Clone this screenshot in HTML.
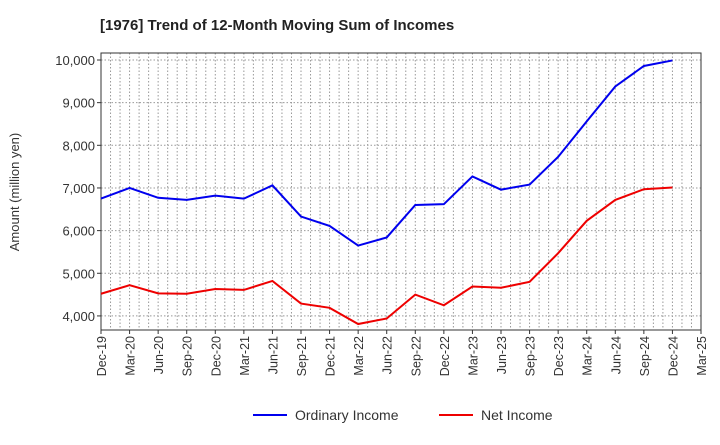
<!DOCTYPE html>
<html><head><meta charset="utf-8"><style>
body{margin:0;background:#fff;font-family:"Liberation Sans",Arial,sans-serif}
</style></head><body>
<svg id="c" width="720" height="440" xmlns="http://www.w3.org/2000/svg">
<text x="100" y="30" font-size="15" font-weight="bold" fill="#222">[1976]  Trend of 12-Month Moving Sum of Incomes</text>
<g id="grid"></g><g id="axes"></g><g id="series"></g>
<text transform="translate(19,192) rotate(-90)" text-anchor="middle" font-size="13" fill="#333">Amount (million yen)</text>
<g>
<line x1="253" y1="415" x2="287" y2="415" stroke="#0000ee" stroke-width="2"/>
<text x="295" y="420" font-size="14" fill="#333">Ordinary Income</text>
<line x1="439" y1="415" x2="473" y2="415" stroke="#ee0000" stroke-width="2"/>
<text x="481" y="420" font-size="14" fill="#333">Net Income</text>
</g>
</svg>
<script>
const categories=["Dec-19","Mar-20","Jun-20","Sep-20","Dec-20","Mar-21","Jun-21","Sep-21","Dec-21","Mar-22","Jun-22","Sep-22","Dec-22","Mar-23","Jun-23","Sep-23","Dec-23","Mar-24","Jun-24","Sep-24","Dec-24","Mar-25"];
const ordinaryIncome=[6750,7000,6770,6720,6820,6750,7060,6330,6110,5650,5840,6600,6620,7270,6960,7080,7730,8560,9380,9860,9990];
const netIncome=[4520,4720,4530,4520,4630,4610,4820,4290,4190,3810,3940,4500,4250,4690,4660,4800,5470,6230,6720,6970,7010];
const yTicks=[4000,5000,6000,7000,8000,9000,10000];
const L=101,R=701,T=53,B=330,yMin=3670,yMax=10164;
const NS="http://www.w3.org/2000/svg";
const x=i=>L+i*(R-L)/(categories.length-1);
const y=v=>B-(v-yMin)/(yMax-yMin)*(B-T);
function mk(tag,attrs,parent){const e=document.createElementNS(NS,tag);for(const k in attrs)e.setAttribute(k,attrs[k]);document.getElementById(parent).appendChild(e);return e;}
for(let m=1;m<(categories.length-1)*3;m++){const xx=L+m*(R-L)/((categories.length-1)*3);
const g=mk('line',{x1:xx,x2:xx,y1:T,y2:B,stroke:'#999','stroke-dasharray':'1.5,2','stroke-width':1},'grid');

}
yTicks.forEach(v=>{const g=mk('line',{x1:L,x2:R,y1:y(v),y2:y(v),stroke:'#999','stroke-dasharray':'1.5,2'},'grid');


const t=mk('text',{x:L-6,y:y(v)+5,'text-anchor':'end','font-size':13,fill:'#333'},'axes');t.textContent=v.toLocaleString('en-US');


const tk=mk('line',{x1:L-4,x2:L,y1:y(v),y2:y(v),stroke:'#333'},'axes');

});
const fr=mk('rect',{x:L,y:T,width:R-L,height:B-T,fill:'none',stroke:'#333'},'axes');


categories.forEach((c,i)=>{const t=mk('text',{transform:`translate(${x(i)+5},${B+6}) rotate(-90)`,'text-anchor':'end','font-size':12.5,fill:'#333'},'axes');t.textContent=c;


const tk=mk('line',{x1:x(i),x2:x(i),y1:B,y2:B+4,stroke:'#333'},'axes');

});
function line(d,col,name){const p=mk('polyline',{points:d.map((v,i)=>x(i)+','+y(v)).join(' '),fill:'none',stroke:col,'stroke-width':2},'series');

}
line(ordinaryIncome,'#0000ee','ordinary-income-line');
line(netIncome,'#ee0000','net-income-line');
</script>
</body></html>
